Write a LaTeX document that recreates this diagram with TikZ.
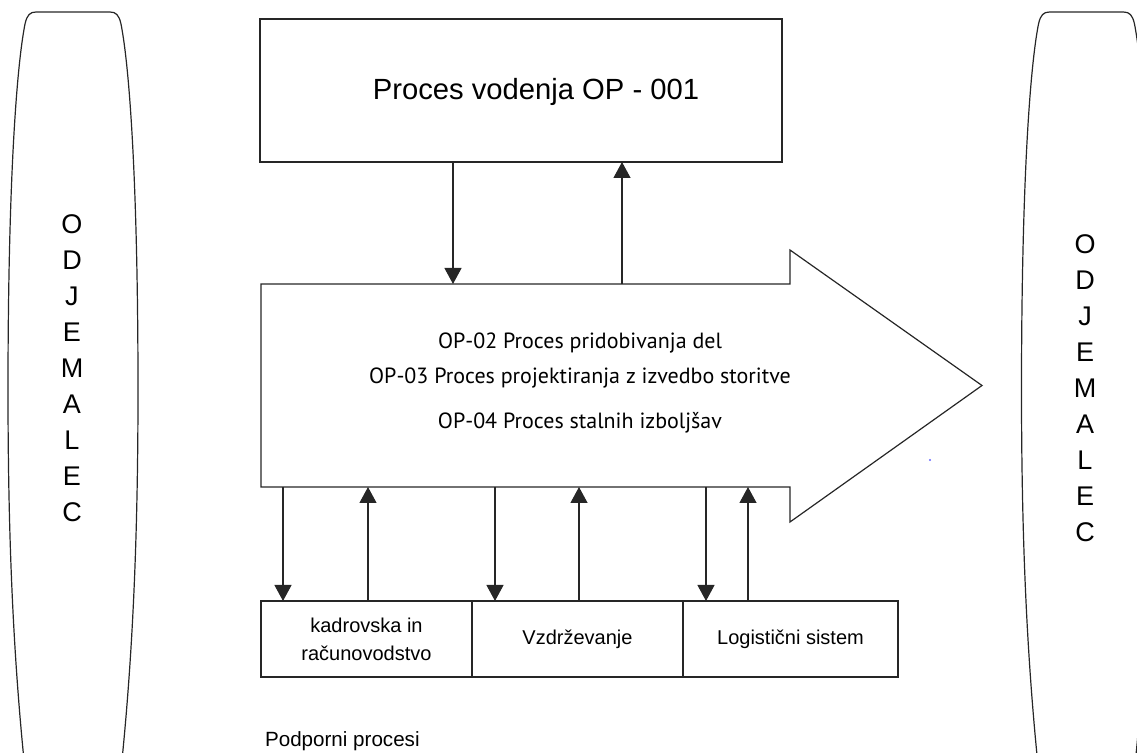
\documentclass[tikz,border=0pt]{standalone}
\usepackage{fontspec}
\setmainfont{Liberation Sans}
\newfontfamily\ptsans{PT Sans}
\usetikzlibrary{arrows.meta,positioning,calc}

\begin{document}
\begin{tikzpicture}[x=0.5pt,y=-0.5pt,
    edgeline/.style={draw=black!85,line width=0.6pt},
    procbox/.style={edgeline,rectangle,outer sep=0pt,inner sep=2pt,align=center,font=\fontsize{10}{14}\selectfont},
    conn/.style={edgeline,-{Triangle[width=8.5pt,length=8pt]}},
    letters/.style={align=center,font=\fontsize{13.5}{18}\selectfont}]
  \useasboundingbox (0,0) rectangle (1137,753);
  \clip (0,0) rectangle (1137,753);
  % odjemalec levo in desno
  \foreach \dx in {0,1013.5}
    \draw[edgeline,xshift=\dx*0.5pt] (24,760) .. controls (12,640) and (8,520) .. (8,390)
      .. controls (8,190) and (16,70) .. (25,24) .. controls (27,15) and (30,12) .. (36,12)
      -- (110,12) .. controls (116,12) and (119,15) .. (121,24)
      .. controls (130,70) and (138,190) .. (138,390) .. controls (138,520) and (134,640) .. (122,760);
  \node[letters] (kupecL) at (72,368) {O\\D\\J\\E\\M\\A\\L\\E\\C};
  \node[letters] (kupecR) at (1085,388) {O\\D\\J\\E\\M\\A\\L\\E\\C};

  % vodenje
  \node[procbox,minimum width=261pt,minimum height=71.5pt] (vodenje) at (521,90.5) {};
  \node[font=\fontsize{14.6}{17}\selectfont] (naslov) at (536,92) {Proces vodenja OP - 001};

  % glavni procesi
  \node[minimum width=264.5pt,minimum height=101.5pt,outer sep=0pt,inner sep=0pt] (telo) at (525.5,385.5) {};
  \draw[edgeline] (telo.north west) -- (telo.north east) -- ++(0,-34) -- ($(telo.east)+(192,0)$)
    -- ($(telo.south east)+(0,35)$) -- (telo.south east) -- (telo.south west) -- cycle;
  \node[align=center,font=\ptsans\fontsize{11}{17.5}\selectfont] (opis) at (580,383)
    {OP-02 Proces pridobivanja del\\OP-03 Proces projektiranja z izvedbo storitve\\[5pt]OP-04 Proces stalnih izboljšav};
  \fill[blue!60] (930,460) circle (0.6pt);

  % podporni procesi
  \node[procbox,minimum width=105.5pt,minimum height=38pt] (kadri) at (366.5,639) {kadrovska in\\računovodstvo};
  \node[procbox,minimum width=105.5pt,minimum height=38pt,right=0pt of kadri] (vzdr) {Vzdrževanje};
  \node[procbox,minimum width=107.5pt,minimum height=38pt,right=0pt of vzdr] (logi) {Logistični sistem};
  \node[anchor=west,font=\fontsize{10.3}{12}\selectfont] (podporni) at (258,741) {Podporni procesi};

  % povezave
  \coordinate (v1) at ($(vodenje.south)+(-68,0)$);
  \coordinate (v2) at ($(vodenje.south)+(101,0)$);
  \draw[conn] (v1) -- (v1 |- telo.north);
  \draw[conn] (v2 |- telo.north) -- (v2);
  \foreach \n/\d/\u in {kadri/-83.5/1.5,vzdr/-82.5/1.5,logi/-84.5/-42.5} {
    \coordinate (d) at ($(\n.north)+(\d,0)$);
    \coordinate (u) at ($(\n.north)+(\u,0)$);
    \draw[conn] (d |- telo.south) -- (d);
    \draw[conn] (u) -- (u |- telo.south);
  }
\end{tikzpicture}
\end{document}
